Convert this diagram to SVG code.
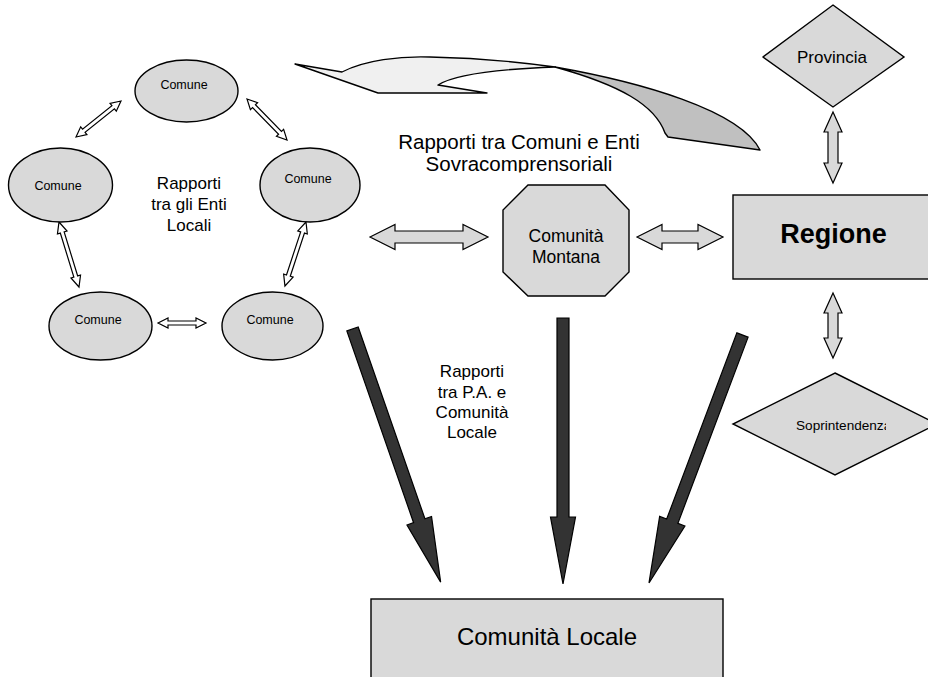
<svg xmlns="http://www.w3.org/2000/svg" width="928" height="677" viewBox="0 0 928 677">
<style>
text{font-family:"Liberation Sans",Arial,sans-serif;fill:#000}
.node{fill:#d9d9d9;stroke:#000;stroke-width:1.4}
.hollow{fill:#fff;stroke:#000;stroke-width:1.2}
.grayarr{fill:#d9d9d9;stroke:#000;stroke-width:1.2}
.dark{fill:#333;stroke:#000;stroke-width:1.2}
.c{text-anchor:middle}
</style>
<defs>
<clipPath id="clipSovra"><rect x="380" y="120" width="300" height="52.5"/></clipPath>
<clipPath id="clipSopr"><rect x="780" y="410" width="106" height="30"/></clipPath>
</defs>

<g id="connectors">
  <!-- pentagon hollow double arrows -->
  <path class="hollow" transform="translate(76,137) rotate(-38.66)" d="M0,0 L10,-5 L10,-2 L47.6,-2 L47.6,-5 L57.6,0 L47.6,5 L47.6,2 L10,2 L10,5 Z"/>
  <path class="hollow" transform="translate(247,99) rotate(45.7)" d="M0,0 L10,-5 L10,-2 L47.3,-2 L47.3,-5 L57.3,0 L47.3,5 L47.3,2 L10,2 L10,5 Z"/>
  <path class="hollow" transform="translate(59,222) rotate(72.9)" d="M0,0 L11,-5 L11,-2 L57,-2 L57,-5 L68,0 L57,5 L57,2 L11,2 L11,5 Z"/>
  <path class="hollow" transform="translate(306,222) rotate(108.2)" d="M0,0 L11,-5 L11,-2 L56.4,-2 L56.4,-5 L67.4,0 L56.4,5 L56.4,2 L11,2 L11,5 Z"/>
  <path class="hollow" transform="translate(158,323)" d="M0,0 L10,-5 L10,-2 L38,-2 L38,-5 L48,0 L38,5 L38,2 L10,2 L10,5 Z"/>
  <!-- gray double arrows -->
  <path class="grayarr" d="M370,237 L395,224.5 L395,231 L463,231 L463,224.5 L488,237 L463,249.5 L463,243 L395,243 L395,249.5 Z"/>
  <path class="grayarr" d="M637,237 L662,224.5 L662,231 L698,231 L698,224.5 L723,237 L698,249.5 L698,243 L662,243 L662,249.5 Z"/>
  <path class="grayarr" d="M833,112 L842,132 L838,132 L838,163 L842,163 L833,183 L824,163 L828,163 L828,132 L824,132 Z"/>
  <path class="grayarr" d="M833,293 L842,313 L838,313 L838,338 L842,338 L833,358 L824,338 L828,338 L828,313 L824,313 Z"/>
  <!-- curved 3D arrow -->
  <path fill="#f0f0f0" stroke="#000" stroke-width="1.4" stroke-linejoin="round" d="M295,64 L342,72 C365,60 400,56 430,57 C480,58 520,62 555,67 C500,69 455,74 438,85 L487,93 L378,93 Z"/>
  <path fill="#c0c0c0" stroke="#000" stroke-width="1.4" stroke-linejoin="round" d="M555,67 C640,82 740,110 760,150 L668,137 L665,133 C655,105 620,85 555,67 Z"/>
  <!-- dark arrows to Comunità Locale -->
  <path class="dark" transform="translate(352.5,329) rotate(70.8)" d="M0,-6 L203,-6 L203,-13 L268,0 L203,13 L203,6 L0,6 Z"/>
  <path class="dark" transform="translate(563,318) rotate(90)" d="M0,-6 L199,-6 L199,-12.5 L266,0 L199,12.5 L199,6 L0,6 Z"/>
  <path class="dark" transform="translate(742.5,335) rotate(110.66)" d="M0,-6 L199,-6 L199,-13.5 L265,0 L199,13.5 L199,6 L0,6 Z"/>
</g>

<g id="comune-top">
  <ellipse class="node" cx="186.5" cy="91" rx="51.5" ry="31"/>
  <text class="c" x="184" y="89" font-size="12.5">Comune</text>
</g>
<g id="comune-left">
  <ellipse class="node" cx="60.5" cy="185" rx="52" ry="37"/>
  <text class="c" x="58" y="190" font-size="12.5">Comune</text>
</g>
<g id="comune-right">
  <ellipse class="node" cx="310" cy="185" rx="50" ry="37"/>
  <text class="c" x="308" y="183" font-size="12.5">Comune</text>
</g>
<g id="comune-bottom-left">
  <ellipse class="node" cx="100.5" cy="326" rx="51.5" ry="34"/>
  <text class="c" x="98" y="324" font-size="12.5">Comune</text>
</g>
<g id="comune-bottom-right">
  <ellipse class="node" cx="272.5" cy="326" rx="50.5" ry="34"/>
  <text class="c" x="270" y="324" font-size="12.5">Comune</text>
</g>

<g id="label-enti-locali">
  <text class="c" x="189" y="189" font-size="17">Rapporti</text>
  <text class="c" x="189" y="210" font-size="17">tra gli Enti</text>
  <text class="c" x="189" y="231" font-size="17">Locali</text>
</g>

<g id="label-sovracomprensoriali" clip-path="url(#clipSovra)">
  <text class="c" x="519" y="149" font-size="20.5">Rapporti tra Comuni e Enti</text>
  <text class="c" x="519" y="171" font-size="20.5">Sovracomprensoriali</text>
</g>

<g id="comunita-montana">
  <polygon class="node" points="528,185 605,185 629,210 629,272 605,296 528,296 503,272 503,210"/>
  <text class="c" x="566" y="242" font-size="17.5">Comunità</text>
  <text class="c" x="566" y="263" font-size="17.5">Montana</text>
</g>

<g id="regione">
  <rect class="node" x="733" y="195" width="200" height="84"/>
  <text class="c" x="833.5" y="243" font-size="27" font-weight="bold">Regione</text>
</g>

<g id="provincia">
  <polygon class="node" points="833,5 904,57 833,107 763,57"/>
  <text class="c" x="832" y="63" font-size="17">Provincia</text>
</g>

<g id="soprintendenza">
  <polygon class="node" points="835,373 937,424 835,475 733,424"/>
  <text x="796" y="430" font-size="13.6" clip-path="url(#clipSopr)">Soprintendenza</text>
</g>

<g id="label-pa">
  <text class="c" x="472" y="377" font-size="17">Rapporti</text>
  <text class="c" x="472" y="397.5" font-size="17">tra P.A. e</text>
  <text class="c" x="472" y="418" font-size="17">Comunità</text>
  <text class="c" x="472" y="438" font-size="17">Locale</text>
</g>

<g id="comunita-locale">
  <rect class="node" x="371" y="599" width="352" height="100"/>
  <text class="c" x="547" y="645" font-size="24">Comunità Locale</text>
</g>
</svg>
